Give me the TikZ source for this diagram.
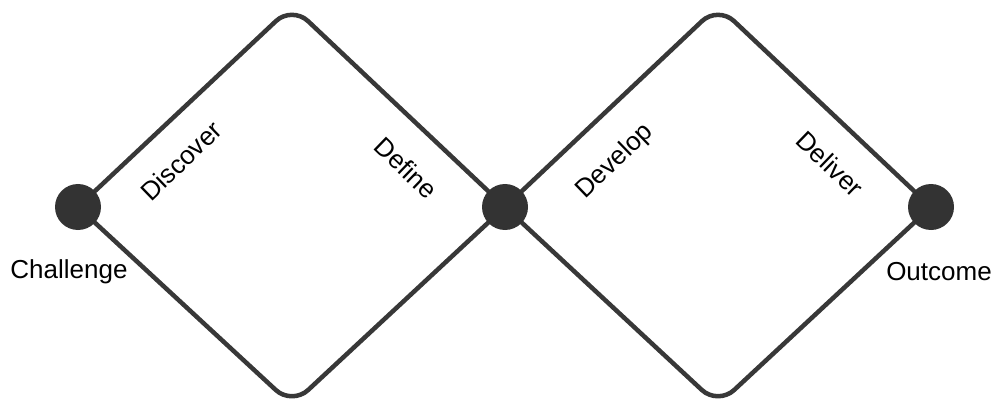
\documentclass[tikz,border=0pt]{standalone}
\usepackage{fontspec}
\setmainfont{Liberation Sans}
\begin{document}
\begin{tikzpicture}[x=1pt,y=-1pt,
  edge/.style={draw=black!78, line width=4.5pt, rounded corners=22pt, line join=round},
  dot/.style={circle, fill=black!80, minimum size=46pt, inner sep=0pt},
  lbl/.style={font=\fontsize{26}{30}\selectfont, text=black, inner sep=0pt},
  endlbl/.style={font=\fontsize{26}{30}\selectfont, text=black, inner sep=0pt}]
\useasboundingbox (0,0) rectangle (1003,406);
\coordinate (T1) at (292,6);
\coordinate (B1) at (292,405);
\coordinate (T2) at (718,6);
\coordinate (B2) at (718,405);
\coordinate (Lc) at (78,207);
\coordinate (Mc) at (505,207);
\coordinate (Rc) at (931,207);
\draw[edge] (Lc) -- (T1) -- (Mc) -- (B1) -- cycle;
\draw[edge] (Mc) -- (T2) -- (Rc) -- (B2) -- cycle;
\node[dot] (L) at (Lc) {};
\node[dot] (M) at (Mc) {};
\node[dot] (R) at (Rc) {};
\node[lbl, rotate=44] (disc) at (181,161) {Discover};
\node[lbl, rotate=-44] (def) at (406,168) {Define};
\node[lbl, rotate=44] (dev) at (615,162) {Develop};
\node[lbl, rotate=-44] (del) at (830,164) {Deliver};
\node[endlbl] (ch) at (69,272) {Challenge};
\node[endlbl] (out) at (939,272) {Outcome};
\end{tikzpicture}
\end{document}
